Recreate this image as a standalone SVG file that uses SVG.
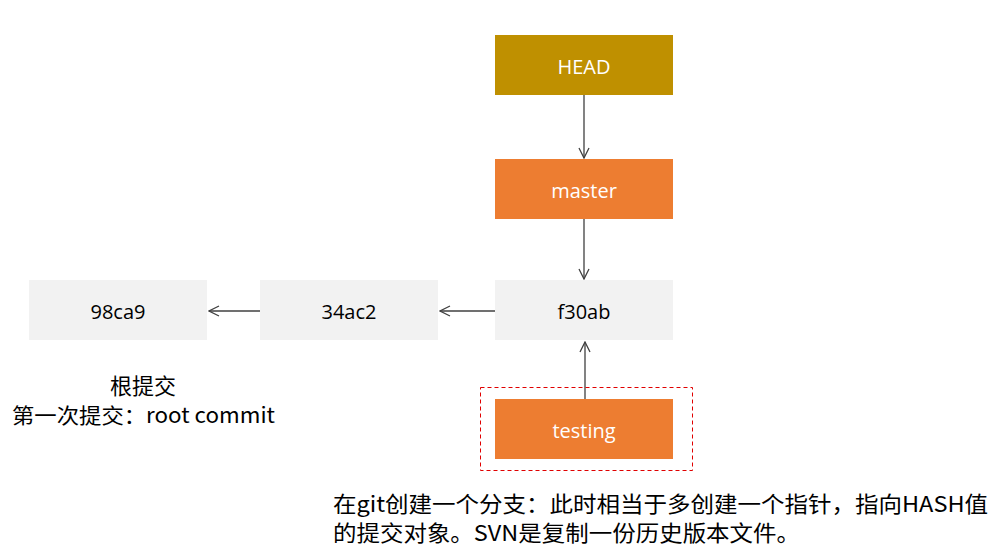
<svg xmlns="http://www.w3.org/2000/svg" width="998" height="554" viewBox="0 0 998 554">
<style>
.lbl{font-family:"Open Sans","Noto Sans","Liberation Sans",sans-serif;font-size:20px;text-anchor:middle;dominant-baseline:central}
.w{fill:#ffffff}
.k{fill:#000000}
.cj{font-family:"Noto Sans CJK SC","Noto Sans",sans-serif;fill:#000000}
.cn{stroke:#404040;stroke-width:1.3;fill:none;marker-end:url(#ah)}
</style>
<defs>
<marker id="ah" viewBox="0 0 12 12" refX="11" refY="6" markerWidth="12" markerHeight="12" markerUnits="userSpaceOnUse" orient="auto">
<path d="M1,1 L11,6 L1,11" fill="none" stroke="#404040" stroke-width="1.3"/>
</marker>
</defs>
<rect width="998" height="554" fill="#ffffff"/>
<g id="connectors">
<line class="cn" x1="584" y1="95" x2="584" y2="158"/>
<line class="cn" x1="584" y1="219" x2="584" y2="279"/>
<line class="cn" x1="495" y1="311" x2="440" y2="311"/>
<line class="cn" x1="260" y1="311" x2="209" y2="311"/>
<line class="cn" x1="585" y1="399" x2="585" y2="342"/>
</g>
<g id="head"><rect x="495" y="35" width="178" height="60" fill="#BF9000"/><text class="lbl w" x="584" y="66">HEAD</text></g>
<g id="master"><rect x="495" y="159" width="178" height="60" fill="#ED7D31"/><text class="lbl w" x="584" y="190">master</text></g>
<g id="f30ab"><rect x="495" y="280" width="178" height="60" fill="#F2F2F2"/><text class="lbl k" x="584" y="311">f30ab</text></g>
<g id="c34ac2"><rect x="260" y="280" width="178" height="60" fill="#F2F2F2"/><text class="lbl k" x="349" y="311">34ac2</text></g>
<g id="c98ca9"><rect x="29" y="280" width="178" height="60" fill="#F2F2F2"/><text class="lbl k" x="118" y="311">98ca9</text></g>
<g id="testing">
<rect x="480.5" y="387.5" width="212" height="83" fill="none" stroke="#E00000" stroke-width="1" stroke-dasharray="4,3"/>
<rect x="495" y="399" width="178" height="60" fill="#ED7D31"/><text class="lbl w" x="584" y="430">testing</text>
</g>
<g id="notes">
<text class="cj" x="143" y="394" font-size="22" text-anchor="middle">根提交</text>
<text class="cj" x="12" y="423" font-size="21" textLength="263" lengthAdjust="spacingAndGlyphs">第一次提交：root commit</text>
<text class="cj" x="333" y="512" font-size="22" textLength="655" lengthAdjust="spacingAndGlyphs">在git创建一个分支：此时相当于多创建一个指针，指向HASH值</text>
<text class="cj" x="333" y="541" font-size="22" textLength="467" lengthAdjust="spacingAndGlyphs">的提交对象。SVN是复制一份历史版本文件。</text>
</g>
</svg>
